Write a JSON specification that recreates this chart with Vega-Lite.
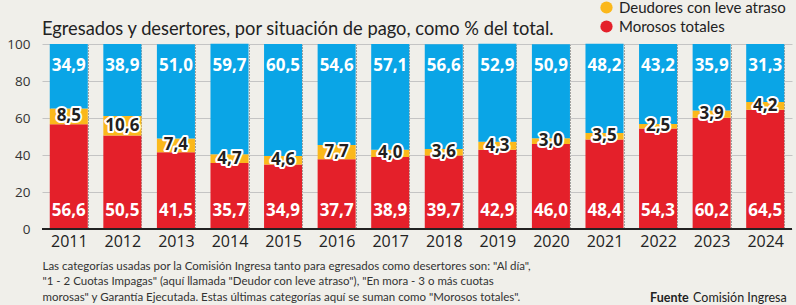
{
  "$schema": "https://vega.github.io/schema/vega-lite/v6.json",
  "autosize": {"type": "none"},
  "width": 750,
  "height": 185,
  "padding": {"left": 42, "top": 44, "right": 4, "bottom": 76},
  "background": "#f0efea",
  "title": {
    "text": "Egresados y desertores, por situación de pago, como % del total.",
    "anchor": "start",
    "frame": "group",
    "font": "Lato",
    "fontSize": 18.3,
    "fontWeight": "normal",
    "color": "#222222",
    "offset": 10,
    "dy": 49
  },
  "datasets": {
    "main": [
      {"year": "2011", "cat": "Morosos totales", "ord": 1, "v": 56.6},
      {"year": "2011", "cat": "Deudores con leve atraso", "ord": 2, "v": 8.5},
      {"year": "2011", "cat": "Al día", "ord": 3, "v": 34.9},
      {"year": "2012", "cat": "Morosos totales", "ord": 1, "v": 50.5},
      {"year": "2012", "cat": "Deudores con leve atraso", "ord": 2, "v": 10.6},
      {"year": "2012", "cat": "Al día", "ord": 3, "v": 38.9},
      {"year": "2013", "cat": "Morosos totales", "ord": 1, "v": 41.5},
      {"year": "2013", "cat": "Deudores con leve atraso", "ord": 2, "v": 7.4},
      {"year": "2013", "cat": "Al día", "ord": 3, "v": 51.0},
      {"year": "2014", "cat": "Morosos totales", "ord": 1, "v": 35.7},
      {"year": "2014", "cat": "Deudores con leve atraso", "ord": 2, "v": 4.7},
      {"year": "2014", "cat": "Al día", "ord": 3, "v": 59.7},
      {"year": "2015", "cat": "Morosos totales", "ord": 1, "v": 34.9},
      {"year": "2015", "cat": "Deudores con leve atraso", "ord": 2, "v": 4.6},
      {"year": "2015", "cat": "Al día", "ord": 3, "v": 60.5},
      {"year": "2016", "cat": "Morosos totales", "ord": 1, "v": 37.7},
      {"year": "2016", "cat": "Deudores con leve atraso", "ord": 2, "v": 7.7},
      {"year": "2016", "cat": "Al día", "ord": 3, "v": 54.6},
      {"year": "2017", "cat": "Morosos totales", "ord": 1, "v": 38.9},
      {"year": "2017", "cat": "Deudores con leve atraso", "ord": 2, "v": 4.0},
      {"year": "2017", "cat": "Al día", "ord": 3, "v": 57.1},
      {"year": "2018", "cat": "Morosos totales", "ord": 1, "v": 39.7},
      {"year": "2018", "cat": "Deudores con leve atraso", "ord": 2, "v": 3.6},
      {"year": "2018", "cat": "Al día", "ord": 3, "v": 56.6},
      {"year": "2019", "cat": "Morosos totales", "ord": 1, "v": 42.9},
      {"year": "2019", "cat": "Deudores con leve atraso", "ord": 2, "v": 4.3},
      {"year": "2019", "cat": "Al día", "ord": 3, "v": 52.9},
      {"year": "2020", "cat": "Morosos totales", "ord": 1, "v": 46.0},
      {"year": "2020", "cat": "Deudores con leve atraso", "ord": 2, "v": 3.0},
      {"year": "2020", "cat": "Al día", "ord": 3, "v": 50.9},
      {"year": "2021", "cat": "Morosos totales", "ord": 1, "v": 48.4},
      {"year": "2021", "cat": "Deudores con leve atraso", "ord": 2, "v": 3.5},
      {"year": "2021", "cat": "Al día", "ord": 3, "v": 48.2},
      {"year": "2022", "cat": "Morosos totales", "ord": 1, "v": 54.3},
      {"year": "2022", "cat": "Deudores con leve atraso", "ord": 2, "v": 2.5},
      {"year": "2022", "cat": "Al día", "ord": 3, "v": 43.2},
      {"year": "2023", "cat": "Morosos totales", "ord": 1, "v": 60.2},
      {"year": "2023", "cat": "Deudores con leve atraso", "ord": 2, "v": 3.9},
      {"year": "2023", "cat": "Al día", "ord": 3, "v": 35.9},
      {"year": "2024", "cat": "Morosos totales", "ord": 1, "v": 64.5},
      {"year": "2024", "cat": "Deudores con leve atraso", "ord": 2, "v": 4.2},
      {"year": "2024", "cat": "Al día", "ord": 3, "v": 31.3}
    ],
    "source": [
      {"t": "Fuente", "k": "a"},
      {"t": "Comisión Ingresa", "k": "b"}
    ]
  },
  "data": {"name": "main"},
  "layer": [
    {
      "mark": {"type": "bar"},
      "encoding": {
        "x": {
          "field": "year",
          "type": "ordinal",
          "scale": {"paddingInner": 0.29, "paddingOuter": 0.145},
          "axis": {
            "title": [
              "Las categorías usadas por la Comisión Ingresa tanto para egresados como desertores son: \"Al día\",",
              "\"1 - 2 Cuotas Impagas\" (aquí llamada \"Deudor con leve atraso\"), \"En mora - 3 o más cuotas",
              "morosas\" y Garantía Ejecutada. Estas últimas categorías aquí se suman como \"Morosos totales\"."
            ],
            "titleAnchor": "start",
            "titleAlign": "left",
            "titleBaseline": "top",
            "titleX": 0,
            "titleY": 31,
            "titleFont": "Lato",
            "titleFontSize": 11.5,
            "titleFontWeight": "normal",
            "titleColor": "#333333",
            "titleLineHeight": 15.5,
            "labelAngle": 0,
            "labelFont": "Open Sans",
            "labelFontSize": 16,
            "labelColor": "#222222",
            "labelPadding": 4,
            "ticks": false,
            "domain": false,
            "grid": true,
            "tickBand": "extent",
            "gridColor": "#555555",
            "gridDash": [1, 2],
            "gridWidth": 1
          }
        },
        "y": {
          "field": "v",
          "type": "quantitative",
          "stack": "zero",
          "scale": {"domain": [0, 100], "nice": false}
        },
        "order": {"field": "ord", "type": "quantitative"},
        "color": {
          "field": "cat",
          "type": "nominal",
          "scale": {
            "domain": ["Al día", "Deudores con leve atraso", "Morosos totales"],
            "range": ["#0aa5e6", "#fbb81b", "#e4202a"]
          },
          "legend": {
            "title": null,
            "values": ["Deudores con leve atraso", "Morosos totales"],
            "orient": "none",
            "legendX": 557,
            "legendY": -44,
            "symbolType": "circle",
            "symbolSize": 150,
            "symbolStrokeWidth": 0,
            "symbolOpacity": 1,
            "labelFont": "Lato",
            "labelFontSize": 15,
            "labelColor": "#222222",
            "labelOffset": 5,
            "rowPadding": 3,
            "labelLimit": 300
          }
        }
      }
    },
    {
      "mark": {"type": "rule", "color": "#222222", "strokeWidth": 2},
      "encoding": {"y": {"datum": 0, "type": "quantitative"}}
    },
    {
      "transform": [{"filter": "datum.cat === 'Al día'"}],
      "mark": {"type": "text", "font": "Open Sans", "fontWeight": "bold", "fontSize": 17, "color": "white", "baseline": "middle"},
      "encoding": {
        "x": {"field": "year", "type": "ordinal"},
        "y": {"datum": 88, "type": "quantitative"},
        "text": {"field": "v", "type": "quantitative", "format": ".1f"}
      }
    },
    {
      "transform": [{"filter": "datum.cat === 'Morosos totales'"}],
      "mark": {"type": "text", "font": "Open Sans", "fontWeight": "bold", "fontSize": 17, "color": "white", "baseline": "middle"},
      "encoding": {
        "x": {"field": "year", "type": "ordinal"},
        "y": {"datum": 10, "type": "quantitative"},
        "text": {"field": "v", "type": "quantitative", "format": ".1f"}
      }
    },
    {
      "transform": [
        {"stack": "v", "groupby": ["year"], "sort": [{"field": "ord"}], "as": ["v0", "v1"]},
        {"filter": "datum.cat === 'Deudores con leve atraso'"},
        {"fold": ["v0", "v1"], "as": ["k", "pos"]}
      ],
      "layer": [
        {
          "mark": {"type": "text", "font": "Open Sans", "fontWeight": "bold", "fontSize": 17, "color": "white", "stroke": "white", "strokeWidth": 4, "strokeJoin": "round", "baseline": "middle"}
        },
        {
          "mark": {"type": "text", "font": "Open Sans", "fontWeight": "bold", "fontSize": 17, "color": "#231f20", "baseline": "middle"}
        }
      ],
      "encoding": {
        "x": {"field": "year", "type": "ordinal"},
        "y": {"aggregate": "mean", "field": "pos", "type": "quantitative"},
        "text": {"aggregate": "max", "field": "v", "type": "quantitative", "format": ".1f"}
      }
    },
    {
      "data": {"name": "source"},
      "transform": [{"filter": "datum.k === 'a'"}],
      "mark": {"type": "text", "font": "Lato", "fontSize": 12.5, "fontWeight": "bold", "color": "#222222", "align": "left", "baseline": "middle", "dx": -8},
      "encoding": {
        "x": {"datum": "2022", "type": "ordinal"},
        "y": {"datum": -37.3, "type": "quantitative"},
        "text": {"field": "t"}
      }
    },
    {
      "data": {"name": "source"},
      "transform": [{"filter": "datum.k === 'b'"}],
      "mark": {"type": "text", "font": "Lato", "fontSize": 12.5, "fontWeight": "normal", "color": "#222222", "align": "left", "baseline": "middle", "dx": 35},
      "encoding": {
        "x": {"datum": "2022", "type": "ordinal"},
        "y": {"datum": -37.3, "type": "quantitative"},
        "text": {"field": "t"}
      }
    }
  ],
  "config": {
    "view": {"stroke": null},
    "axisY": {
      "title": null,
      "tickCount": 6,
      "labelOverlap": false,
      "labelFlush": false,
      "labelBound": false,
      "labelFont": "Open Sans",
      "labelFontSize": 13.5,
      "labelColor": "#333333",
      "labelPadding": 12,
      "ticks": false,
      "domain": false,
      "grid": true,
      "gridColor": "#c4c4c4",
      "gridWidth": 1
    },
    "locale": {"number": {"decimal": ",", "thousands": ".", "grouping": [3], "currency": ["", " €"]}}
  }
}
